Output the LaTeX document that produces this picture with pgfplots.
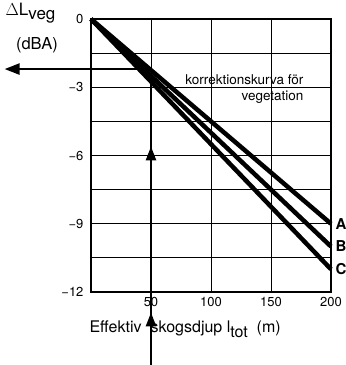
\documentclass[border=0pt]{standalone}
\usepackage{pgfplots}
\pgfplotsset{compat=1.18}
\usepackage{fontspec}
\setmainfont{TeX Gyre Heros}
\usetikzlibrary{arrows.meta}
\begin{document}
\begin{tikzpicture}[x=1pt,y=1pt]
\useasboundingbox (0pt,0pt) rectangle (346pt,365pt);
\begin{axis}[
  at={(91pt,73pt)}, anchor=south west,
  scale only axis, width=240pt, height=273pt,
  xmin=0, xmax=200, ymin=-12, ymax=0,
  clip=false,
  xtick={50,100,150,200},
  xticklabels={50,100,150,200},
  ytick={-12,-9,-6,-3,0},
  yticklabels={−12,−9,−6,−3,0},
  minor ytick={-10.5,-7.5,-4.5,-1.5},
  grid=both,
  major grid style={black, line width=0.8pt},
  minor grid style={black, line width=0.8pt},
  axis line style={black, line width=1.6pt},
  tick style={draw=none},
  ticklabel style={font=\fontsize{13}{15}\selectfont},
  yticklabel style={xshift=-4pt},
  xticklabel style={yshift=-2pt},
]
\addplot[black, line width=4.5pt] coordinates {(0,0) (200,-9)};
\addplot[black, line width=4.5pt] coordinates {(0,0) (200,-10)};
\addplot[black, line width=4.5pt] coordinates {(0,0) (200,-11)};
% horizontal arrow
\draw[line width=2.5pt, -{Triangle[length=15pt,width=11pt]}] (axis cs:50,-2.2) -- (axis cs:-72,-2.2);
% vertical arrow shaft and two heads
\draw[line width=2.5pt] (axis cs:50,-15.25) -- (axis cs:50,-2.4);
\draw[line width=2.5pt, -{Triangle[length=14pt,width=10pt]}] (axis cs:50,-13.7) -- (axis cs:50,-12.9);
\draw[line width=2.5pt, -{Triangle[length=14pt,width=10pt]}] (axis cs:50,-6.4) -- (axis cs:50,-5.6);
\node[font=\fontsize{15}{17}\selectfont\bfseries, anchor=west] at (axis cs:201,-9) {A};
\node[font=\fontsize{15}{17}\selectfont\bfseries, anchor=west] at (axis cs:201,-10) {B};
\node[font=\fontsize{15}{17}\selectfont\bfseries, anchor=west] at (axis cs:201,-11) {C};
\end{axis}
\node[anchor=west, font=\fontsize{17}{19}\selectfont] at (2pt,352pt) {$\Delta$L\raisebox{-0.45ex}{veg}};
\node[font=\fontsize{16.5}{19}\selectfont] at (37pt,320pt) {(dBA)};
\node[anchor=east, font=\fontsize{13.5}{15}\selectfont] at (307pt,285pt) {korrektionskurva för};
\node[anchor=east, font=\fontsize{13.5}{15}\selectfont] at (307pt,268pt) {vegetation};
\node[anchor=west, font=\fontsize{16}{18}\selectfont] at (86pt,36pt) {Effektiv\hspace{9pt}skogsdjup l\raisebox{-0.6ex}{tot} \ (m)};
\end{tikzpicture}
\end{document}
